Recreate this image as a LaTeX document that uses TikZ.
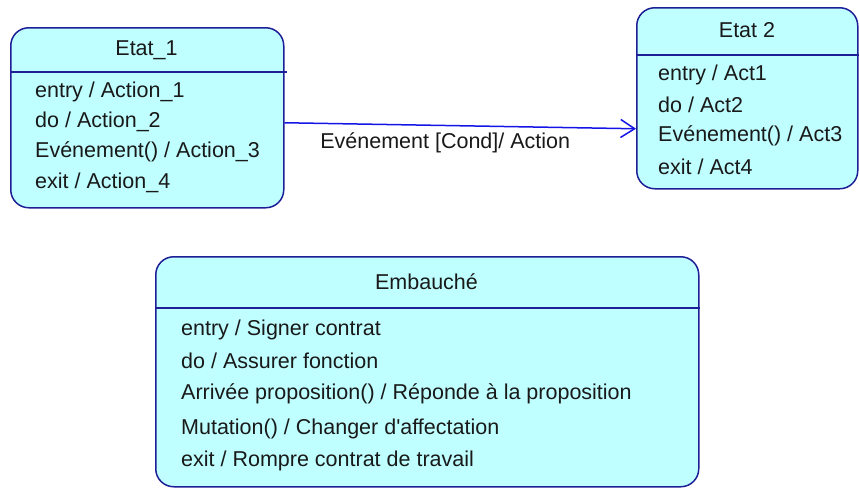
\documentclass[tikz,border=0pt]{standalone}
\usepackage{fontspec}
\setmainfont{Liberation Sans}
\usetikzlibrary{arrows.meta,calc}
\definecolor{boxfill}{RGB}{192,255,255}
\definecolor{boxline}{RGB}{30,30,150}
\definecolor{arrblue}{RGB}{20,20,230}
\definecolor{txt}{RGB}{25,25,25}
\begin{document}
\begin{tikzpicture}[x=1pt,y=-1pt,
  statebox/.style={draw=boxline, fill=boxfill, rounded corners=18pt, line width=1.5pt, inner sep=0pt, anchor=north west},
  sep/.style={draw=boxline, line width=1.5pt},
  lbl/.style={text=txt, font=\fontsize{21.5}{25}\selectfont, inner sep=0pt},
  item/.style={lbl, anchor=west},
  trans/.style={draw=arrblue, line width=1.5pt, -{Straight Barb[length=14pt,width=18pt,line width=1.5pt]}}]
\useasboundingbox (0,0) rectangle (859,488);
% Etat_1
\node[statebox, minimum width=273pt, minimum height=180pt] (e1) at (10,27) {};
\draw[sep] (e1.west |- {(0,72)}) -- ($(e1.east |- {(0,72)})+(2,0)$);
\node[lbl] (e1t) at (146.5,50) {Etat\_1};
\node[item] (e1a) at (35,92) {entry / Action\_1};
\node[item] (e1b) at (35,122) {do / Action\_2};
\node[item] (e1c) at (35,152) {Evénement() / Action\_3};
\node[item] (e1d) at (35,183) {exit / Action\_4};
% Etat 2
\node[statebox, minimum width=221pt, minimum height=181pt] (e2) at (636,7) {};
\draw[sep] (e2.west |- {(0,55)}) -- (e2.east |- {(0,55)});
\node[lbl] (e2t) at (747,30) {Etat 2};
\node[item] (e2a) at (658,75) {entry / Act1};
\node[item] (e2b) at (658,105) {do / Act2};
\node[item] (e2c) at (658,136) {Evénement() / Act3};
\node[item] (e2d) at (658,167) {exit / Act4};
% Embauche
\node[statebox, minimum width=543pt, minimum height=230pt] (e3) at (155,256) {};
\draw[sep] (e3.west |- {(0,308)}) -- (e3.east |- {(0,308)});
\node[lbl] (e3t) at (426.5,282) {Embauché};
\node[item] (e3a) at (181,330) {entry / Signer contrat};
\node[item] (e3b) at (181,361) {do / Assurer fonction};
\node[item] (e3c) at (181,394) {Arrivée proposition() / Réponde à la proposition};
\node[item] (e3d) at (181,429) {Mutation() / Changer d\textquotesingle affectation};
\node[item] (e3e) at (181,461) {exit / Rompre contrat de travail};
% transition
\draw[trans] ($(e1.east)+(0,5)$) -- node[lbl, below=6pt, xshift=-15pt] (tl) {Evénement [Cond]/ Action} ($(e2.west)+(0,30.5)$);
\end{tikzpicture}
\end{document}
